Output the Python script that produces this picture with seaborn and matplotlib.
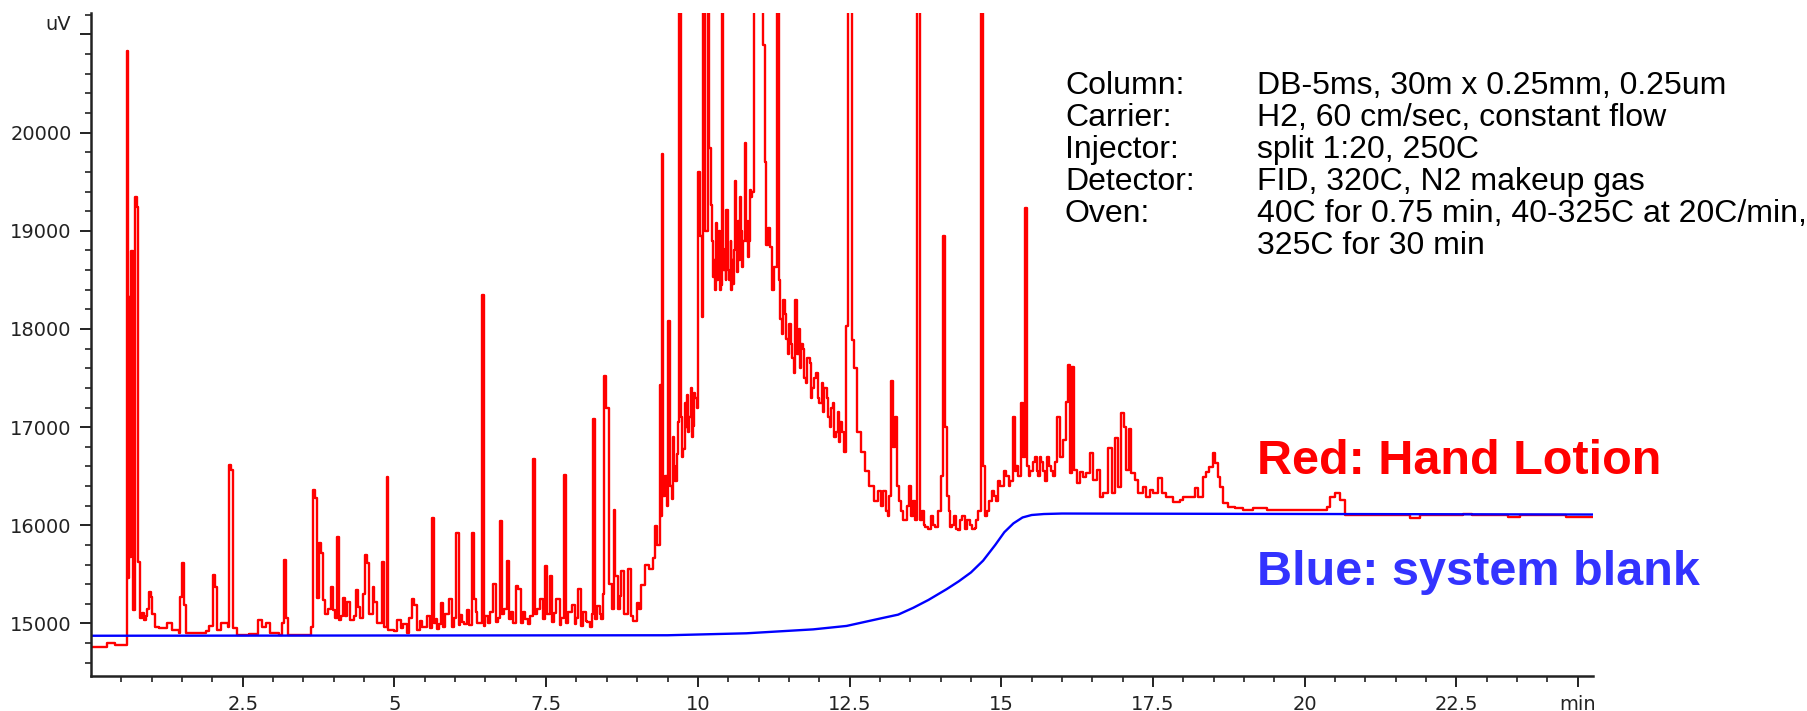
import matplotlib
matplotlib.use("Agg")
import matplotlib.pyplot as plt
import seaborn as sns
import pandas as pd

# Hand lotion chromatogram (FID signal, uV) against retention time (min): main peaks
lotion_time = [
    0.00, 0.26, 0.40, 0.595, 0.615, 0.630, 0.648, 0.660, 0.690, 0.720, 0.750, 0.780,
    0.805, 0.835, 0.870, 0.900, 0.930, 0.960, 0.990, 1.010, 1.050, 1.120, 1.250, 1.340,
    1.450, 1.470, 1.500, 1.530, 1.560, 1.700, 1.900, 1.950, 2.010, 2.040, 2.070, 2.150,
    2.250, 2.280, 2.310, 2.340, 2.400, 2.600, 2.760, 2.820, 2.880, 2.950, 3.100, 3.150,
    3.180, 3.220, 3.250, 3.450, 3.580, 3.620, 3.650, 3.690, 3.720, 3.760, 3.790, 3.820,
    3.860, 3.900, 3.950, 3.980, 4.020, 4.060, 4.090, 4.120, 4.150, 4.180, 4.220, 4.260,
    4.330, 4.370, 4.400, 4.440, 4.480, 4.520, 4.550, 4.580, 4.640, 4.670, 4.720, 4.800,
    4.830, 4.870, 4.900, 5.000, 5.100, 5.200, 5.290, 5.330, 5.380, 5.500, 5.580, 5.620,
    5.650, 5.700, 5.760, 5.800, 5.900, 5.950, 6.020, 6.060, 6.120, 6.190, 6.230, 6.270,
    6.310, 6.360, 6.440, 6.470, 6.540, 6.630, 6.670, 6.740, 6.780, 6.850, 6.890, 6.950,
    7.010, 7.040, 7.080, 7.150, 7.200, 7.280, 7.310, 7.400, 7.440, 7.480, 7.520, 7.560,
    7.600, 7.670, 7.720, 7.790, 7.820, 7.920, 7.970, 8.030, 8.080, 8.150, 8.220, 8.280,
    8.310, 8.380, 8.440, 8.460, 8.490, 8.530, 8.580, 8.610, 8.630, 8.680, 8.710, 8.740,
    8.790, 8.850, 8.890, 8.930, 8.990, 9.030, 9.070, 9.130, 9.200, 9.260, 9.290, 9.330,
    9.370, 9.390, 9.410, 9.430, 9.460, 9.490, 9.510, 9.540, 9.570, 9.610, 9.650, 9.690,
    9.720, 9.760, 9.800, 9.820, 9.860, 9.920, 9.960, 9.980, 10.010, 10.030, 10.060, 10.090,
    10.120, 10.160, 10.180, 10.210, 10.250, 10.280, 10.300, 10.330, 10.360, 10.400, 10.440, 10.470,
    10.500, 10.550, 10.580, 10.610, 10.640, 10.690, 10.730, 10.770, 10.800, 10.830, 10.860, 10.880,
    10.930, 10.980, 11.050, 11.070, 11.100, 11.120, 11.160, 11.190, 11.220, 11.250, 11.300, 11.330,
    11.360, 11.400, 11.450, 11.500, 11.550, 11.600, 11.630, 11.700, 11.750, 11.800, 11.880, 11.950,
    12.000, 12.080, 12.150, 12.220, 12.280, 12.350, 12.400, 12.440, 12.480, 12.540, 12.580, 12.620,
    12.680, 12.750, 12.820, 12.900, 12.960, 13.020, 13.100, 13.150, 13.190, 13.220, 13.250, 13.280,
    13.350, 13.420, 13.480, 13.520, 13.580, 13.610, 13.660, 13.720, 13.800, 13.880, 13.950, 14.000,
    14.040, 14.070, 14.100, 14.180, 14.250, 14.320, 14.400, 14.480, 14.560, 14.620, 14.660, 14.700,
    14.730, 14.800, 14.880, 14.950, 15.020, 15.080, 15.150, 15.190, 15.220, 15.280, 15.330, 15.360,
    15.390, 15.420, 15.480, 15.550, 15.600, 15.660, 15.720, 15.780, 15.850, 15.910, 15.960, 16.020,
    16.070, 16.100, 16.130, 16.170, 16.190, 16.240, 16.290, 16.350, 16.400, 16.460, 16.510, 16.570,
    16.620, 16.680, 16.760, 16.820, 16.870, 16.930, 16.980, 17.020, 17.060, 17.100, 17.140, 17.200,
    17.250, 17.340, 17.390, 17.450, 17.500, 17.580, 17.640, 17.720, 17.830, 17.940, 18.000, 18.110,
    18.190, 18.240, 18.330, 18.380, 18.430, 18.490, 18.520, 18.570, 18.600, 18.650, 18.740, 18.850,
    18.980, 19.150, 19.370, 19.640, 19.920, 20.190, 20.360, 20.410, 20.500, 20.580, 20.660, 21.730,
    21.900, 22.600, 22.750, 23.350, 23.540, 24.300, 24.750,
]
lotion_uv = [
    14765, 14798, 14781, 20833, 15460, 18330, 15680, 18790, 15137, 19346, 19244, 15629,
    15053, 15104, 15036, 15080, 15150, 15324, 15270, 15100, 14967, 14950, 15002, 14934,
    14900, 15273, 15613, 15188, 14900, 14905, 14920, 14970, 15494, 15375, 14934, 15000,
    14960, 16613, 16563, 14950, 14883, 14890, 15036, 14967, 15000, 14900, 14883, 15000,
    15647, 15053, 14883, 14880, 14883, 14967, 16359, 16274, 15256, 15816, 15714, 15240,
    15100, 15150, 15375, 15140, 15060, 15884, 15036, 15080, 15256, 15080, 15220, 15040,
    15080, 15341, 15170, 15060, 15300, 15697, 15613, 15100, 15375, 15220, 15000, 15629,
    14967, 16494, 14934, 14920, 14950, 14900, 15254, 15185, 14930, 14960, 14950, 16077,
    15000, 14940, 15208, 14960, 15254, 14960, 15924, 14980, 15020, 15139, 14980, 15924,
    15254, 15000, 18350, 14970, 15000, 15402, 15020, 16049, 15100, 15633, 15050, 15000,
    15384, 15347, 15000, 15050, 14990, 16677, 15100, 15254, 15050, 15587, 15100, 15485,
    15020, 15254, 14980, 16511, 15000, 15185, 14990, 15347, 14970, 15030, 14960, 17080,
    15050, 15100, 15300, 17518, 17195, 15400, 15150, 16155, 15485, 15150, 15277, 15531,
    15100, 15555, 15080, 15023, 15208, 15150, 15393, 15600, 15560, 15670, 15990, 15800,
    17430, 16100, 19780, 16300, 16500, 16200, 18080, 16400, 16270, 16600, 16730, 23500,
    17100, 16780, 17000, 17330, 17100, 17010, 17300, 17200, 19600, 18950, 18120, 23500,
    19000, 23500, 19840, 19260, 18530, 18400, 19075, 18630, 18400, 23500, 18810, 19210,
    18600, 18400, 18460, 19506, 18580, 19347, 18634, 19890, 18900, 18736, 19413, 19347,
    23500, 21600, 21600, 20892, 19700, 18860, 19024, 18837, 18400, 18634, 23500, 18500,
    18100, 18300, 17900, 18050, 17700, 18300, 17750, 17850, 17500, 17700, 17400, 17550,
    17250, 17400, 17100, 17250, 16950, 17050, 16750, 18030, 23500, 17890, 17600, 16950,
    16750, 16550, 16400, 16250, 16350, 16200, 16150, 16300, 17470, 16800, 17100, 16400,
    16150, 16050, 16400, 16100, 16050, 23500, 16050, 16000, 15960, 16000, 16150, 16500,
    18950, 17000, 16300, 16000, 15960, 16050, 15960, 16000, 15970, 16150, 23500, 16600,
    16100, 16250, 16300, 16450, 16400, 16500, 16450, 17100, 16550, 16500, 17245, 16700,
    19230, 16600, 16550, 16700, 16500, 16650, 16450, 16600, 16500, 17105, 16697, 16868,
    17258, 17632, 16529, 17615, 16563, 16427, 16546, 16495, 16529, 16733, 16461, 16563,
    16291, 16325, 16784, 16325, 16886, 16393, 17140, 17003, 16563, 16986, 16529, 16461,
    16325, 16393, 16291, 16359, 16325, 16478, 16325, 16291, 16240, 16257, 16291, 16291,
    16376, 16291, 16495, 16546, 16597, 16733, 16631, 16495, 16393, 16223, 16189, 16172,
    16155, 16172, 16155, 16155, 16160, 16155, 16189, 16291, 16325, 16257, 16104, 16075,
    16104, 16120, 16104, 16080, 16104, 16085, 16085,
]

# Hand lotion trace: small baseline wiggles between the main peaks
wiggle_time = [
    5.04, 5.14, 5.24, 5.42, 5.46, 5.54, 5.68, 5.73, 5.84, 5.98, 6.08, 6.15, 6.34, 6.50,
    6.58, 6.70, 6.81, 6.92, 7.12, 7.24, 7.35, 7.63, 7.75, 7.86, 8.00, 8.11, 8.18, 8.25,
    8.34, 8.41,
    9.59, 9.63, 9.67, 9.74, 9.78, 9.84, 9.88, 9.90, 9.94,
    10.23, 10.27, 10.32, 10.35, 10.38, 10.42, 10.46, 10.49, 10.52, 10.54, 10.57, 10.60,
    10.63, 10.66, 10.68, 10.71, 10.75, 10.79, 10.82, 10.85, 10.90,
    11.38, 11.43, 11.48, 11.53, 11.58, 11.66, 11.68, 11.73, 11.78, 11.84, 11.86, 11.92,
    11.98, 12.04, 12.06, 12.12, 12.18, 12.20, 12.25, 12.31, 12.33, 12.38,
    13.05, 13.13, 13.31, 13.38, 13.45, 13.55, 13.69, 13.75, 13.84, 13.91, 14.13, 14.15,
    14.22, 14.28, 14.35, 14.44, 14.52, 14.59, 14.77, 14.84, 14.91, 14.98, 15.05, 15.12,
    15.25, 15.45, 15.52, 15.58, 15.63, 15.69, 15.75, 15.82, 15.88,
]
wiggle_uv = [
    15040, 14990, 15060, 15030, 14960, 15080, 15050, 14990, 15100, 15060, 15090, 14990,
    15120, 15080, 15120, 15060, 15150, 15120, 15120, 15080, 15150, 15110, 15060, 15120,
    15060, 15120, 15020, 15100, 15180, 15050,
    16900, 16450, 17050, 16700, 17250, 16950, 17400, 16900, 17350,
    18900, 18700, 18500, 19000, 18450, 18600, 18500, 19000, 18500, 18900, 18700, 18800,
    18900, 19100, 18700, 19000, 18900, 19400, 19100, 18900, 19400,
    17950, 18150, 17750, 17850, 17550, 18000, 17600, 17800, 17450, 17650, 17300, 17500,
    17300, 17450, 17150, 17300, 17000, 17200, 16900, 17150, 16850, 16950,
    16350, 16100, 16250, 16050, 16200, 16250, 16150, 15980, 16100, 15980, 16150, 15980,
    16100, 15950, 16100, 16050, 15960, 16050, 16150, 16350, 16250, 16400, 16550, 16400,
    16600, 16500, 16650, 16550, 16700, 16550, 16700, 16550, 16650,
]

# System blank baseline
blank_time = [0.0, 9.5, 10.8, 11.35, 11.9, 12.45, 13.0, 13.3, 13.55, 13.8, 14.1, 14.3,
              14.5, 14.7, 14.9, 15.05, 15.2, 15.35, 15.5, 15.7, 16.0, 24.75]
blank_uv = [14875, 14880, 14900, 14920, 14940, 14975, 15050, 15090, 15160, 15240, 15350,
            15430, 15520, 15640, 15800, 15930, 16020, 16080, 16105, 16115, 16120, 16110]

y_ticks = [15000, 16000, 17000, 18000, 19000, 20000]
y_tick_labels = ["15000", "16000", "17000", "18000", "19000", "20000"]
x_ticks = [2.5, 5, 7.5, 10, 12.5, 15, 17.5, 20, 22.5, 24.5]
x_tick_labels = ["2.5", "5", "7.5", "10", "12.5", "15", "17.5", "20", "22.5", "min"]

method_keys = ["Column:", "Carrier:", "Injector:", "Detector:", "Oven:", ""]
method_values = ["DB-5ms, 30m x 0.25mm, 0.25um", "H2, 60 cm/sec, constant flow",
                 "split 1:20, 250C", "FID, 320C, N2 makeup gas",
                 "40C for 0.75 min, 40-325C at 20C/min,", "325C for 30 min"]

lotion = pd.concat([
    pd.DataFrame({"time": lotion_time, "uv": lotion_uv}),
    pd.DataFrame({"time": wiggle_time, "uv": wiggle_uv}),
]).sort_values("time", kind="stable").reset_index(drop=True)
blank = pd.DataFrame({"time": blank_time, "uv": blank_uv})

sns.set_style("ticks")
plt.rcParams["font.family"] = ["DejaVu Sans"]

W, H = 1808, 711
fig = plt.figure(figsize=(W / 100, H / 100), dpi=100)
ax = fig.add_axes([91 / W, 1 - 676 / H, (1593 - 91) / W, (676 - 12.7) / H])

sns.lineplot(data=lotion, x="time", y="uv", ax=ax, color="#ff0000", linewidth=1.7,
             drawstyle="steps-post", estimator=None, sort=False)
sns.lineplot(data=blank, x="time", y="uv", ax=ax, color="#0000ff", linewidth=1.7,
             estimator=None, sort=False)

ax.set_xlim(0, 24.75)
ax.set_ylim(14465, 21222)
ax.set_xlabel("")
ax.set_ylabel("")

for side in ("top", "right"):
    ax.spines[side].set_visible(False)
for side in ("left", "bottom"):
    ax.spines[side].set_color("#222222")
    ax.spines[side].set_linewidth(1.8)

ax.set_xticks(x_ticks)
ax.set_xticklabels(x_tick_labels)
ax.set_xticks([v * 0.5 for v in range(1, 50) if v % 5 != 0], minor=True)
ax.set_yticks(y_ticks + [21000])
ax.set_yticklabels(y_tick_labels + [""])
ax.set_yticks([v for v in range(14600, 21300, 200) if v % 1000 != 0], minor=True)
ax.tick_params(axis="both", which="major", length=8, width=1.4, color="#222222",
               labelsize=14, labelcolor="#222222", pad=6)
ax.tick_params(axis="both", which="minor", length=4, width=1.2, color="#222222")

fig.text(71 / W, 1 - 24 / H, "uV", ha="right", va="center", fontsize=14, color="#222222")

# Method conditions block
for i, (k, v) in enumerate(zip(method_keys, method_values)):
    yb = 1 - (94 + 32 * i) / H
    fig.text(1065 / W, yb, k, ha="left", va="baseline", fontsize=23,
             family="Liberation Sans", color="black")
    fig.text(1257 / W, yb, v, ha="left", va="baseline", fontsize=23,
             family="Liberation Sans", color="black")

fig.text(1257 / W, 1 - 474 / H, "Red: Hand Lotion", ha="left", va="baseline",
         fontsize=35, fontweight="bold", family="Liberation Sans", color="#ff0000")
fig.text(1257 / W, 1 - 585 / H, "Blue: system blank", ha="left", va="baseline",
         fontsize=35, fontweight="bold", family="Liberation Sans", color="#3333ff")

fig.savefig("out.png", dpi=100)
